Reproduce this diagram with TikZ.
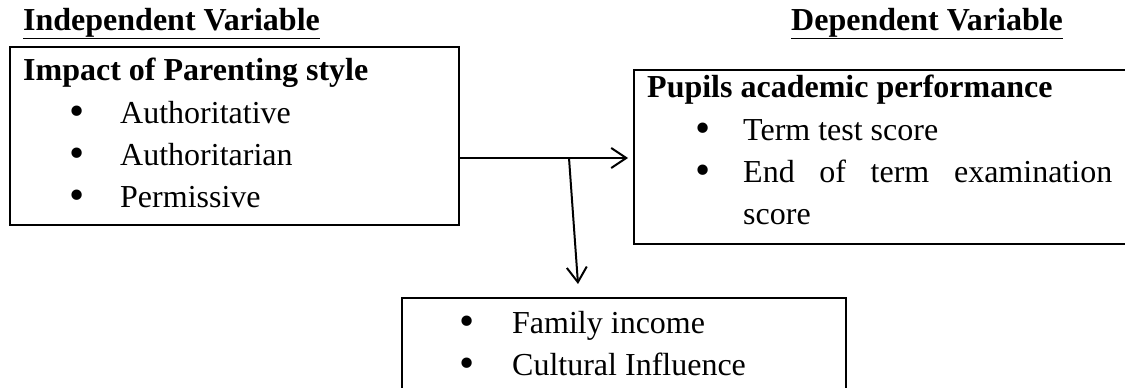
\documentclass[tikz,border=0pt]{standalone}
\usepackage{graphicx}
\usepackage{fontspec}
\setmainfont{Liberation Serif}
\usepackage{tikz}
\usetikzlibrary{arrows.meta}
\newcommand{\bigdot}{\raisebox{-2pt}[12pt][0pt]{\scalebox{1.35}{\textbullet}}}

\begin{document}
\begin{tikzpicture}[x=1pt, y=-1pt,
    box/.style={draw, line width=2pt, inner sep=0pt, anchor=north west},
    txt/.style={inner sep=0pt, anchor=base west, font=\fontsize{32}{38}\selectfont},
    bul/.style={inner sep=0pt, anchor=base, font=\fontsize{32}{38}\selectfont},
    arr/.style={line width=2pt, -{Straight Barb[length=15pt,width=20pt]}}]
        \useasboundingbox (0,0) rectangle (1125,388);

        % the three boxes
        \node[box, minimum width=449pt, minimum height=178pt] (indep) at (9,46) {};
        \node[box, minimum width=500pt, minimum height=174pt] (dep) at (633,69) {};
        \node[box, minimum width=444pt, minimum height=110pt] (moder) at (401,297) {};

        \node[txt] (ivhead) at (23,30) {\underline{\textbf{Independent Variable}}};
        \node[txt] (dvhead) at (791,30) {\underline{\textbf{Dependent Variable}}};

        \node[txt] (ivtitle) at (23,80) {\textbf{Impact of Parenting style}};
        \node[bul] (ivb1) at (77,123) {\bigdot};
        \node[bul] (ivb2) at (77,165) {\bigdot};
        \node[bul] (ivb3) at (77,207) {\bigdot};
        \node[txt] (iv1) at (120,123) {Authoritative};
        \node[txt] (iv2) at (120,165) {Authoritarian};
        \node[txt] (iv3) at (120,207) {Permissive};

        \node[txt] (dvtitle) at (647,97) {\textbf{Pupils academic performance}};
        \node[bul] (dvb1) at (703,140) {\bigdot};
        \node[bul] (dvb2) at (703,182) {\bigdot};
        \node[txt] (dv1) at (743,140) {Term test score};
        \node[txt] (dv2) at (743,182) {\makebox[369pt][s]{End of term examination}};
        \node[txt] (dv3) at (743,224) {score};

        \node[bul] (mvb1) at (467,333) {\bigdot};
        \node[bul] (mvb2) at (467,375) {\bigdot};
        \node[txt] (mv1) at (512,333) {Family income};
        \node[txt] (mv2) at (512,375) {Cultural Influence};

        % connectors
        \coordinate (split) at (569,158);
        \coordinate (down) at (578,284);
        \draw[arr, shorten >=5pt] (indep.east |- split) -- (dep.west |- split);
        \draw[arr] (split) -- (down);
      \end{tikzpicture}
\end{document}
